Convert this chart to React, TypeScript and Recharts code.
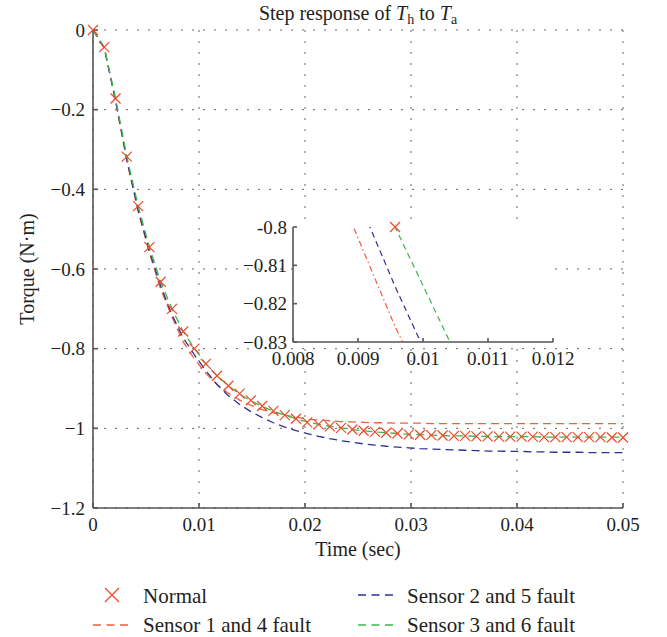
import React from "react";
import { LineChart, Line, XAxis, YAxis, CartesianGrid } from "recharts";

// sample times of the step response (sec)
const time = [
  0, 0.00106, 0.00213, 0.00319, 0.00426, 0.00532, 0.00638, 0.00745, 0.00851, 0.00957,
  0.01064, 0.0117, 0.01277, 0.01383, 0.01489, 0.01596, 0.01702, 0.01809, 0.01915, 0.02021,
  0.02128, 0.02234, 0.0234, 0.02447, 0.02553, 0.0266, 0.02766, 0.02872, 0.02979, 0.03085,
  0.03191, 0.03298, 0.03404, 0.03511, 0.03617, 0.03723, 0.0383, 0.03936, 0.04043, 0.04149,
  0.04255, 0.04362, 0.04468, 0.04574, 0.04681, 0.04787, 0.04894, 0.05,
];

const normal = [
  0, -0.043, -0.172, -0.318, -0.442, -0.545, -0.632, -0.7, -0.757, -0.8,
  -0.838, -0.868, -0.893, -0.913, -0.93, -0.944, -0.956, -0.967, -0.976, -0.985,
  -0.99, -0.995, -0.999, -1.003, -1.006, -1.009, -1.011, -1.013, -1.015, -1.016,
  -1.017, -1.018, -1.019, -1.019, -1.02, -1.02, -1.021, -1.021, -1.021, -1.021,
  -1.022, -1.022, -1.022, -1.022, -1.022, -1.022, -1.023, -1.023,
];

const sensor14 = [
  0, -0.045, -0.178, -0.328, -0.455, -0.56, -0.65, -0.72, -0.783, -0.826,
  -0.862, -0.89, -0.912, -0.929, -0.942, -0.953, -0.961, -0.967, -0.972, -0.977,
  -0.979, -0.981, -0.983, -0.984, -0.985, -0.986, -0.986, -0.987, -0.987, -0.987,
  -0.988, -0.988, -0.988, -0.988, -0.988, -0.988, -0.988, -0.988, -0.988, -0.988,
  -0.988, -0.988, -0.988, -0.988, -0.988, -0.988, -0.988, -0.988,
];

const sensor25 = [
  0, -0.045, -0.178, -0.326, -0.452, -0.555, -0.642, -0.715, -0.773, -0.8155,
  -0.855, -0.89, -0.918, -0.94, -0.958, -0.973, -0.986, -0.997, -1.006, -1.013,
  -1.02, -1.026, -1.031, -1.035, -1.039, -1.042, -1.045, -1.047, -1.049, -1.051,
  -1.052, -1.053, -1.054, -1.055, -1.056, -1.057, -1.057, -1.058, -1.058, -1.059,
  -1.059, -1.06, -1.06, -1.06, -1.061, -1.061, -1.061, -1.061,
];

const sensor36 = [
  0, -0.043, -0.172, -0.318, -0.442, -0.545, -0.632, -0.7, -0.757, -0.8,
  -0.838, -0.868, -0.893, -0.914, -0.931, -0.945, -0.957, -0.967, -0.976, -0.984,
  -0.99, -0.995, -0.999, -1.003, -1.006, -1.009, -1.011, -1.013, -1.015, -1.016,
  -1.017, -1.018, -1.019, -1.019, -1.02, -1.02, -1.021, -1.021, -1.021, -1.021,
  -1.022, -1.022, -1.022, -1.022, -1.022, -1.022, -1.022, -1.022,
];

const mainXTicks = [0, 0.01, 0.02, 0.03, 0.04, 0.05];
const mainXLabels = ["0", "0.01", "0.02", "0.03", "0.04", "0.05"];
const mainYTicks = [0, -0.2, -0.4, -0.6, -0.8, -1, -1.2];
const mainYLabels = ["0", "\u22120.2", "\u22120.4", "\u22120.6", "\u22120.8", "\u22121", "\u22121.2"];

const insetXTicks = [0.008, 0.009, 0.01, 0.011, 0.012];
const insetXLabels = ["0.008", "0.009", "0.01", "0.011", "0.012"];
const insetYTicks = [-0.8, -0.81, -0.82, -0.83];
const insetYLabels = ["-0.8", "\u22120.81", "\u22120.82", "\u22120.83"];

const data = time.map((t, i) => ({
  t,
  normal: normal[i],
  s14: sensor14[i],
  s25: sensor25[i],
  s36: sensor36[i],
}));

// only the Normal markers that fall inside the zoom window
const insetMarks = data.filter(
  (d) => d.t >= 0.008 && d.t <= 0.012 && d.normal <= -0.7999 && d.normal >= -0.83
);

const RED_X = "#ee4a2c";
const RED = "#f25d3c";
const BLUE = "#2e3192";
const GREEN = "#3db54a";
const AXIS = "#555";
const TEXT = "#231f20";
const SERIF = "'Liberation Serif', 'DejaVu Serif', serif";

const label = (ticks: number[], labels: string[]) => (v: number) => {
  const i = ticks.findIndex((t) => Math.abs(t - v) < 1e-9);
  return i >= 0 ? labels[i] : "";
};

const Cross = (props: any) => {
  const { cx, cy, index } = props;
  if (cx == null || cy == null) return <g key={`x-${index}`} />;
  const s = 5;
  return (
    <path
      key={`x-${index}`}
      d={`M${cx - s},${cy - s}L${cx + s},${cy + s}M${cx - s},${cy + s}L${cx + s},${cy - s}`}
      stroke={RED_X}
      strokeWidth={1.2}
      fill="none"
    />
  );
};

const tickStyle = { fontSize: 19, fill: TEXT, fontFamily: SERIF };

function MainChart() {
  return (
    <LineChart width={667} height={637} data={data} margin={{ top: 30, right: 44, bottom: 99, left: 0 }}>
      <CartesianGrid stroke="#666" strokeDasharray="2 9" />
      <XAxis
        dataKey="t"
        type="number"
        domain={[0, 0.05]}
        ticks={mainXTicks}
        tickFormatter={label(mainXTicks, mainXLabels)}
        height={30}
        tickSize={-5}
        tickMargin={15}
        tick={tickStyle}
        stroke={AXIS}
        strokeWidth={1.6}
      />
      <XAxis
        xAxisId="top"
        orientation="top"
        dataKey="t"
        type="number"
        domain={[0, 0.05]}
        ticks={mainXTicks}
        tickFormatter={() => ""}
        height={0}
        tickSize={-5}
        stroke={AXIS}
        strokeWidth={1.6}
      />
      <YAxis
        type="number"
        domain={[-1.2, 0]}
        ticks={mainYTicks}
        tickFormatter={label(mainYTicks, mainYLabels)}
        width={93}
        tickSize={-5}
        tickMargin={13}
        tick={tickStyle}
        stroke={AXIS}
        strokeWidth={1.6}
      />
      <YAxis
        yAxisId="right"
        orientation="right"
        type="number"
        domain={[-1.2, 0]}
        ticks={mainYTicks}
        tickFormatter={() => ""}
        width={0}
        tickSize={-5}
        stroke={AXIS}
        strokeWidth={1.6}
      />
      <Line dataKey="normal" stroke="none" dot={Cross} isAnimationActive={false} />
      <Line dataKey="s14" stroke={RED} strokeWidth={1.3} strokeDasharray="8 5" dot={false} isAnimationActive={false} />
      <Line dataKey="s25" stroke={BLUE} strokeWidth={1.3} strokeDasharray="8 5" dot={false} isAnimationActive={false} />
      <Line dataKey="s36" stroke={GREEN} strokeWidth={1.3} strokeDasharray="8 5" dot={false} isAnimationActive={false} />
    </LineChart>
  );
}

function InsetChart() {
  return (
    <LineChart width={667} height={637} data={data} margin={{ top: 227, right: 114, bottom: 265, left: 233 }}>
      <CartesianGrid horizontal={false} vertical={false} fill="#fff" />
      <XAxis
        dataKey="t"
        type="number"
        domain={[0.008, 0.012]}
        allowDataOverflow
        ticks={insetXTicks}
        tickFormatter={label(insetXTicks, insetXLabels)}
        height={30}
        tickSize={-4}
        tickMargin={14}
        tick={tickStyle}
        stroke={AXIS}
        strokeWidth={1.6}
      />
      <XAxis
        xAxisId="top"
        orientation="top"
        dataKey="t"
        type="number"
        domain={[0.008, 0.012]}
        allowDataOverflow
        ticks={insetXTicks}
        tickFormatter={() => ""}
        height={0}
        tickSize={-4}
        stroke={AXIS}
        strokeWidth={1.6}
      />
      <YAxis
        type="number"
        domain={[-0.83, -0.8]}
        allowDataOverflow
        ticks={insetYTicks}
        tickFormatter={label(insetYTicks, insetYLabels)}
        width={60}
        tickSize={-4}
        tickMargin={10}
        tick={tickStyle}
        stroke={AXIS}
        strokeWidth={1.6}
      />
      <YAxis
        yAxisId="right"
        orientation="right"
        type="number"
        domain={[-0.83, -0.8]}
        allowDataOverflow
        ticks={insetYTicks}
        tickFormatter={() => ""}
        width={0}
        tickSize={-4}
        stroke={AXIS}
        strokeWidth={1.6}
      />
      <XAxis xAxisId="mk" dataKey="t" type="number" domain={[0.008, 0.012]} hide />
      <YAxis yAxisId="mk" type="number" domain={[-0.83, -0.8]} hide />
      <Line dataKey="s14" stroke={RED} strokeWidth={1.2} strokeDasharray="6 3 1.5 3" dot={false} isAnimationActive={false} />
      <Line dataKey="s25" stroke={BLUE} strokeWidth={1.2} strokeDasharray="6 4" dot={false} isAnimationActive={false} />
      <Line dataKey="s36" stroke={GREEN} strokeWidth={1.2} strokeDasharray="6 4" dot={false} isAnimationActive={false} />
      <Line
        xAxisId="mk"
        yAxisId="mk"
        data={insetMarks}
        dataKey="normal"
        stroke="none"
        dot={Cross}
        isAnimationActive={false}
      />
    </LineChart>
  );
}

function Annotations() {
  return (
    <svg width={667} height={637} style={{ position: "absolute", left: 0, top: 0, pointerEvents: "none" }}>
      <g fontFamily={SERIF} fill={TEXT}>
        <text x={358} y={20} fontSize={20} textAnchor="middle">
          Step response of <tspan fontStyle="italic">T</tspan>
          <tspan fontSize={14} dy={4}>h</tspan>
          <tspan dy={-4}> to </tspan>
          <tspan fontStyle="italic">T</tspan>
          <tspan fontSize={14} dy={4}>a</tspan>
        </text>
        <text x={358} y={556} fontSize={20} textAnchor="middle">Time (sec)</text>
        <text transform="translate(34,269) rotate(-90)" fontSize={20} textAnchor="middle">Torque (N·m)</text>

        <path d="M105,588L119,602M105,602L119,588" stroke={RED_X} strokeWidth={1.3} fill="none" />
        <text x={143} y={603} fontSize={21}>Normal</text>
        <line x1={93} y1={625} x2={128} y2={625} stroke={RED} strokeWidth={1.3} strokeDasharray="8 5.5" />
        <text x={143} y={632} fontSize={21}>Sensor 1 and 4 fault</text>
        <line x1={358} y1={595} x2={393} y2={595} stroke={BLUE} strokeWidth={1.3} strokeDasharray="8 5.5" />
        <text x={407} y={603} fontSize={21}>Sensor 2 and 5 fault</text>
        <line x1={358} y1={625} x2={393} y2={625} stroke={GREEN} strokeWidth={1.3} strokeDasharray="8 5.5" />
        <text x={407} y={632} fontSize={21}>Sensor 3 and 6 fault</text>
      </g>
    </svg>
  );
}

export default function App() {
  return (
    <div style={{ position: "absolute", left: 0, top: 0, width: 667, height: 637, background: "#fff" }}>
      <div style={{ position: "absolute", left: 0, top: 0 }}>
        <MainChart />
      </div>
      <div style={{ position: "absolute", left: 0, top: 0 }}>
        <InsetChart />
      </div>
      <Annotations />
    </div>
  );
}
